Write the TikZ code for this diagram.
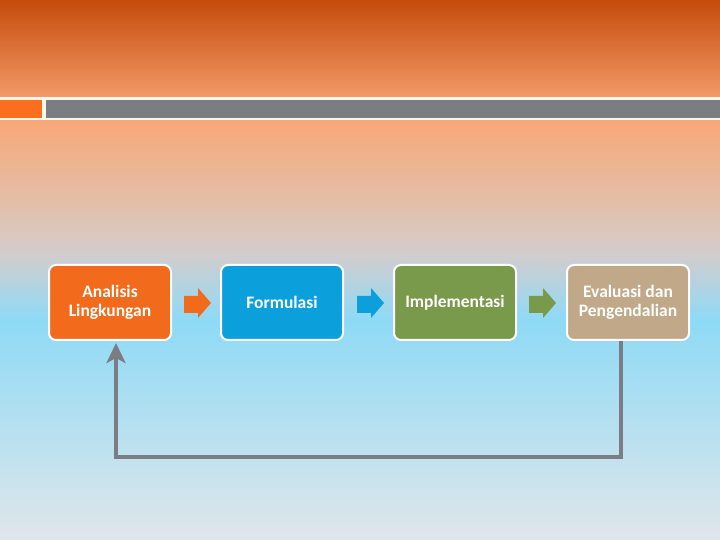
\documentclass[tikz,border=0pt]{standalone}
\usepackage{fontspec}
\setmainfont{Carlito}
\usetikzlibrary{arrows.meta,calc}
\definecolor{topA}{HTML}{C64A0C}
\definecolor{topB}{HTML}{F29A67}
\definecolor{sep}{HTML}{FFF6EC}
\definecolor{sqOr}{HTML}{FA6E1E}
\definecolor{barGr}{HTML}{7A7E82}
\definecolor{bg1}{HTML}{F8A878}
\definecolor{bg2}{HTML}{DCC6BA}
\definecolor{bg3}{HTML}{D2CDCE}
\definecolor{bg4}{HTML}{8EDAF6}
\definecolor{bg5}{HTML}{E0E6EA}
\definecolor{cOr}{HTML}{F26B1D}
\definecolor{cBl}{HTML}{0BA0DC}
\definecolor{cGn}{HTML}{7A9A4B}
\definecolor{cTn}{HTML}{C0A888}
\definecolor{conn}{HTML}{7A7E84}
\tikzset{
  stepbox/.style={draw=white, line width=2pt, rounded corners=7pt, minimum width=122pt, minimum height=75pt, inner sep=2pt, text=white, align=center, font=\fontsize{17.5}{19.5}\selectfont\bfseries}
}
\begin{document}
\begin{tikzpicture}[x=1pt,y=1pt]
\useasboundingbox (0,0) rectangle (720,540);
% background
\shade[top color=topA, bottom color=topB] (0,443) rectangle (720,540);
\fill[sep] (0,419) rectangle (720,443);
\fill[sqOr] (0,422) rectangle (42,440);
\fill[barGr] (46,422) rectangle (720,440);
\shade[top color=bg1, bottom color=bg2] (0,310) rectangle (720,419);
\shade[top color=bg2, bottom color=bg3] (0,285) rectangle (720,310.2);
\shade[top color=bg3, bottom color=bg4] (0,220) rectangle (720,285.2);
\shade[top color=bg4, bottom color=bg5] (0,0) rectangle (720,220.2);
% boxes
\node[stepbox, fill=cOr] (b1) at (110,237.5) {Analisis\\Lingkungan};
\node[stepbox, fill=cBl] (b2) at (282,237.5) {Formulasi};
\node[stepbox, fill=cGn] (b3) at (455,237.5) {Implementasi};
\node[stepbox, fill=cTn] (b4) at (628,237.5) {Evaluasi dan\\Pengendalian};
% block arrows
\foreach \xx/\cc in {184/cOr, 357/cBl, 529/cGn}{
  \fill[\cc] (\xx,244) -- (\xx+14,244) -- (\xx+14,252) -- (\xx+27,237) -- (\xx+14,222) -- (\xx+14,227) -- (\xx,227) -- cycle;
}
% feedback connector
\coordinate (c1) at (621,83);
\coordinate (c2) at (116,83);
\draw[conn, line width=4pt, -{Stealth[length=20pt, width=19pt, inset=5pt]}]
  (b4.south -| c1) -- (c1) -- (c2) -- ($(b1.south -| c2)+(0,-2)$);
\end{tikzpicture}
\end{document}
